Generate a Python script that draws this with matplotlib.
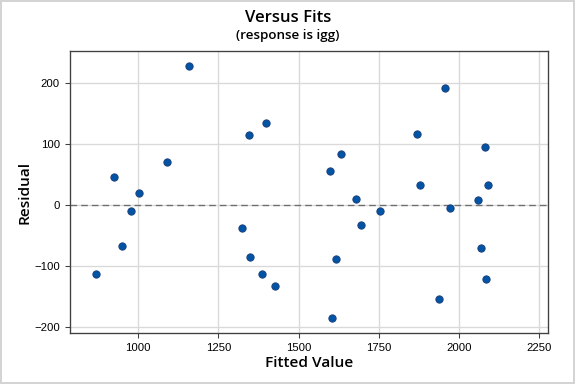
import matplotlib
matplotlib.use("Agg")
import matplotlib.pyplot as plt
from matplotlib.patches import Rectangle

fits = [870, 926, 950, 978, 1004, 1090, 1158, 1323, 1344, 1350, 1387, 1397, 1425,
        1599, 1604, 1617, 1632, 1679, 1694, 1754, 1868, 1878, 1937, 1955, 1971,
        2060, 2069, 2082, 2083, 2089]
resid = [-114, 45, -68, -10, 19, 70, 227, -38, 114, -86, -114, 134, -133,
         55, -186, -89, 83, 9, -33, -10, 116, 33, -155, 191, -5,
         8, -71, 95, -122, 33]

xticks = [1000, 1250, 1500, 1750, 2000, 2250]
yticks = [-200, -100, 0, 100, 200]

fig = plt.figure(figsize=(6, 4), dpi=96)
fig.patch.set_facecolor("white")
fig.patches.append(Rectangle((0.002, 0.003), 0.995, 0.994, transform=fig.transFigure,
                             fill=False, edgecolor="#d4d4d4", linewidth=1.5))

ax = fig.add_axes([0.1215, 0.133, 0.8295, 0.734])
ax.set_axisbelow(True)

ax.grid(True, color="#d9d9d9", linewidth=1.0)
ax.axhline(0, color="#6e6e6e", linestyle=(0, (5, 3)), linewidth=1.0, zorder=2)
ax.scatter(fits, resid, s=30, c="#0054a6", edgecolors="#1c3f7a", linewidths=0.7, zorder=3)

ax.set_xlim(788, 2276)
ax.set_ylim(-210, 252)
ax.set_xticks(xticks)
ax.set_yticks(yticks)

for side in ["top", "right", "bottom", "left"]:
    ax.spines[side].set_color("#404040")
    ax.spines[side].set_linewidth(1.0)

ax.tick_params(axis="both", direction="out", length=4, width=0.8, color="#404040",
               labelsize=8.5, labelcolor="black")
for lab in ax.get_xticklabels() + ax.get_yticklabels():
    lab.set_family("Liberation Sans")

ax.set_xlabel("Fitted Value", fontsize=11.5, family="Open Sans", fontweight="semibold", labelpad=2)
ax.set_ylabel("Residual", fontsize=11.5, family="Open Sans", fontweight="semibold", labelpad=2)

fig.text(0.5, 0.952, "Versus Fits", ha="center", va="center", fontsize=12.5,
         family="Open Sans", fontweight="semibold")
fig.text(0.5, 0.908, "(response is igg)", ha="center", va="center", fontsize=10,
         family="Open Sans", fontweight="semibold")

fig.savefig("out.png", dpi=96)
